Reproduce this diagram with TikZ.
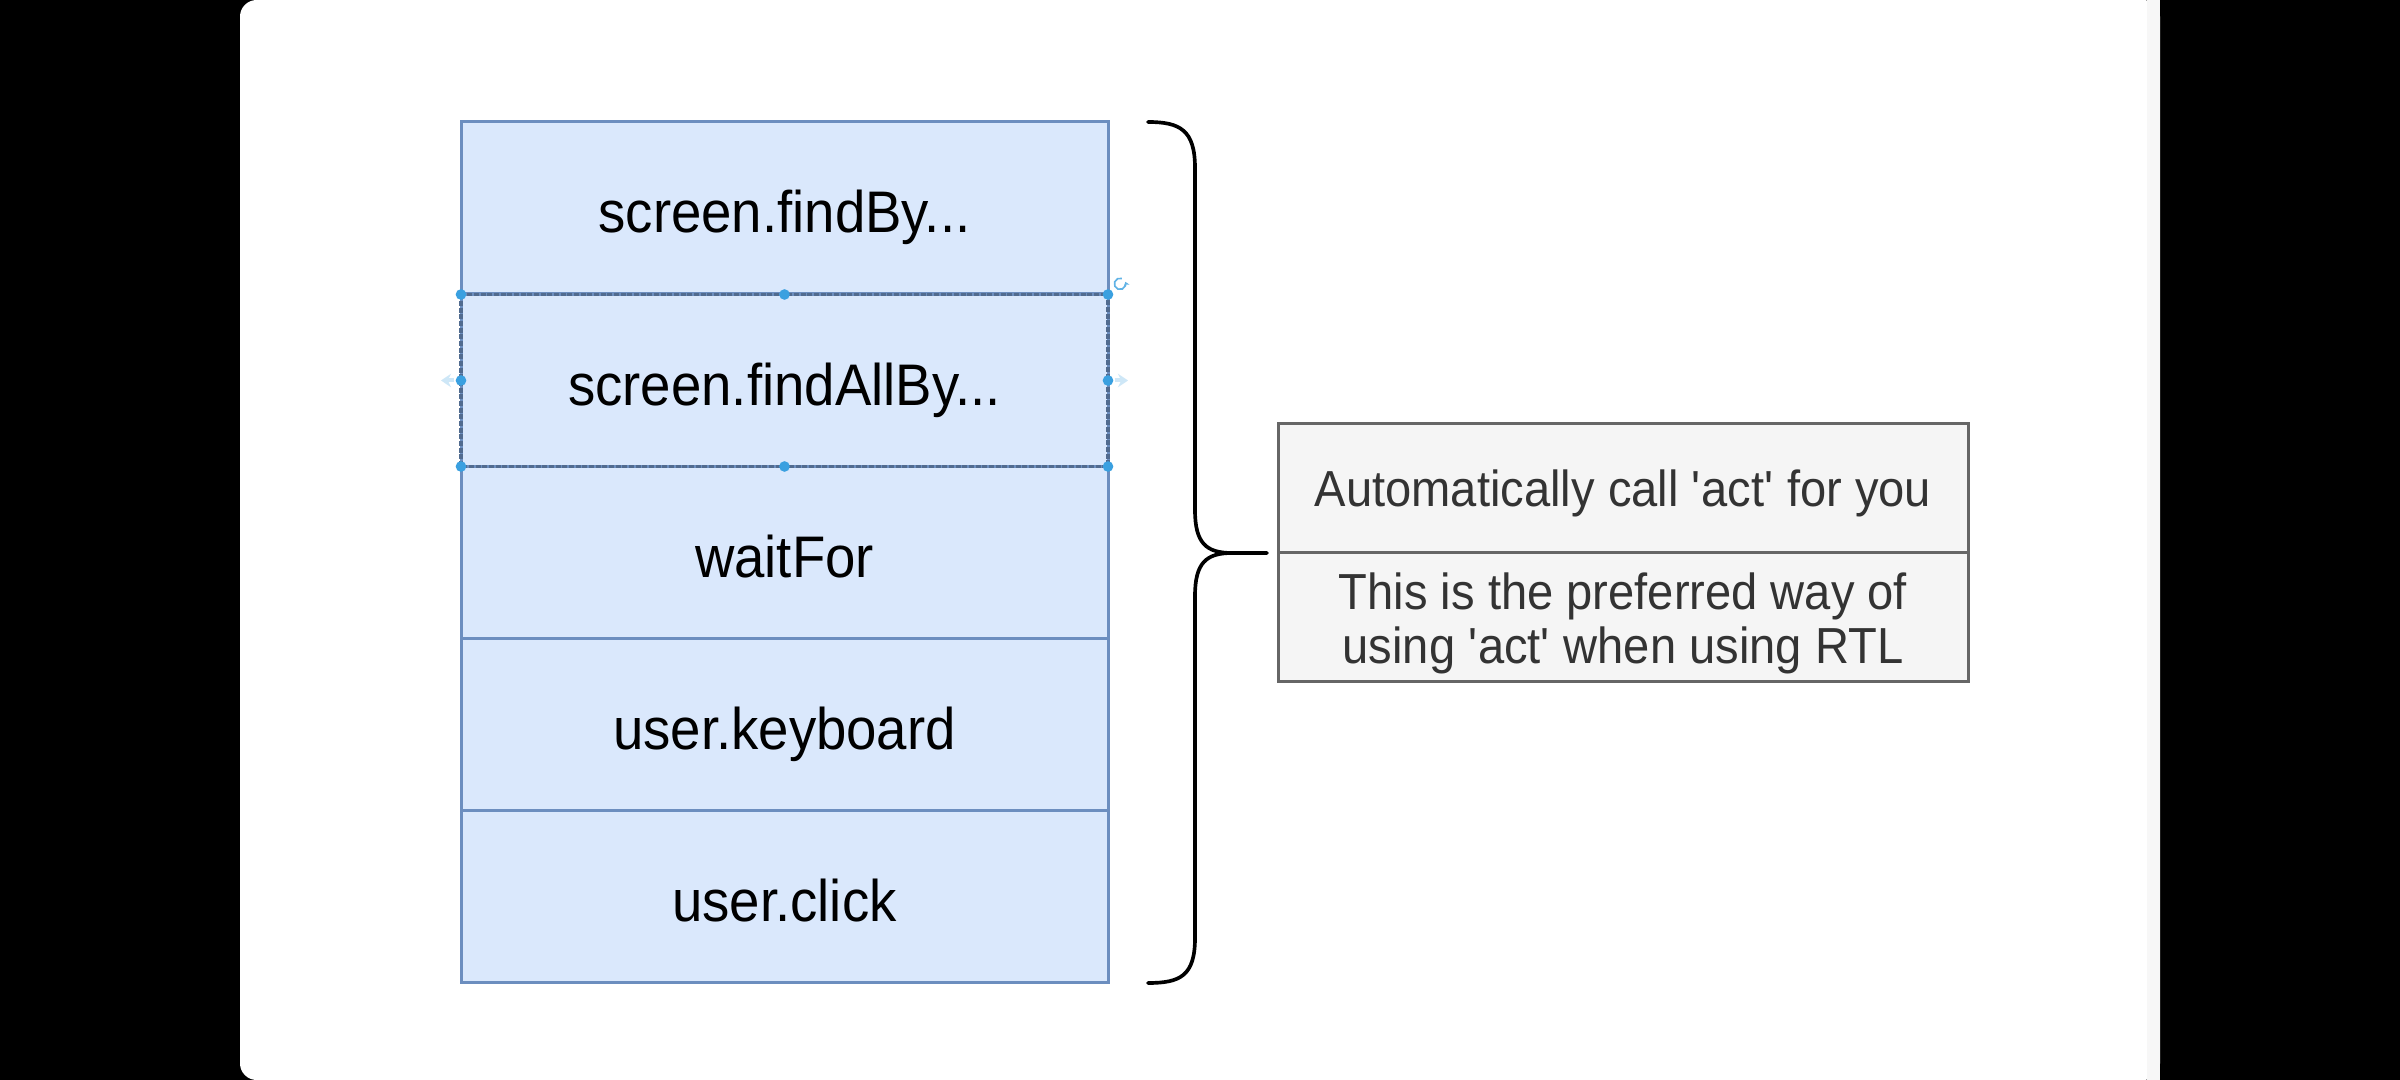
\documentclass[tikz,border=0pt]{standalone}
\usepackage{fontspec}
\usetikzlibrary{arrows.meta}
\setmainfont{Liberation Sans}
\newfontfamily\narrowsans{Liberation Sans}[FakeStretch=0.93]
\definecolor{cellfill}{HTML}{DAE8FC}
\definecolor{celldraw}{HTML}{6C8EBF}
\definecolor{notefill}{HTML}{F5F5F5}
\definecolor{notedraw}{HTML}{666666}
\definecolor{notetext}{HTML}{333333}
\definecolor{handle}{HTML}{3AA0E0}
\tikzset{
  cell/.style={draw=celldraw, fill=cellfill, line width=0.9pt, inner sep=0pt, outer sep=0pt,
    minimum width=194.1pt, minimum height=51.6pt, text height=15pt, text depth=0pt,
    font=\narrowsans\fontsize{17.6}{20}\selectfont, text=black},
  notecell/.style={draw=notedraw, fill=notefill, line width=0.9pt, inner sep=0pt, outer sep=0pt,
    minimum width=207pt, minimum height=38.7pt, font=\narrowsans\fontsize{15.2}{16.1}\selectfont,
    text=notetext, align=center},
  brace/.style={draw=black, line width=1.1pt, line cap=round, line join=round},
  handledot/.style={circle, fill=handle, inner sep=0pt, minimum size=3.2pt},
  ghostarrow/.style={draw=handle!25, line width=1.2pt, -{Stealth[length=3pt,width=4pt]}}
}
\begin{document}
\begin{tikzpicture}[x=0.3pt, y=-0.3pt]
\useasboundingbox (0,0) rectangle (2400,1080);
% screen frame
\fill[black] (0,0) rectangle (2400,1080);
\fill[white, rounded corners=5pt] (240,0) rectangle (2160,1080);
\fill[black!3] (2147,0) rectangle (2160,1080);
% stack of cells
\node[cell] (c1) at (784.5,208) {screen.findBy...};
\node[cell] (c2) at (784.5,380.5) {screen.findAllBy...};
\node[cell] (c3) at (784.5,552.5) {waitFor};
\node[cell] (c4) at (784.5,724.5) {user.keyboard};
\node[cell] (c5) at (784.5,896.5) {user.click};
% selection handles on c2
\draw[celldraw!75!black, line width=1pt, dash pattern=on 1.5pt off 0.5pt] (c2.north west) rectangle (c2.south east);
\foreach \a in {north west, north, north east, west, east, south west, south, south east}
  \node[handledot] at (c2.\a) {};
\coordinate (la) at ([xshift=-6pt]c2.west);
\coordinate (lb) at ([xshift=-2pt]c2.west);
\coordinate (ra) at ([xshift=2pt]c2.east);
\coordinate (rb) at ([xshift=6pt]c2.east);
\draw[ghostarrow] (lb) -- (la);
\draw[ghostarrow] (ra) -- (rb);
\coordinate (rot) at ([xshift=3.6pt,yshift=3.2pt]c2.north east);
\draw[handle!80, line width=0.5pt, -{Stealth[length=1.2pt,width=1.8pt]}] ([shift={(70:1.7pt)}]rot) arc[start angle=70, end angle=380, radius=1.7pt];
% brace
\coordinate (bt) at (1148,122);
\coordinate (bb) at (1148,983);
\coordinate (tip) at (1267,553);
\draw[brace] (bt) .. controls (1180,122) and (1195,130) .. (1195,168) -- (1195,510)
  .. controls (1195,543) and (1206,553) .. (1232,553) -- (tip);
\draw[brace] (1232,553) .. controls (1206,553) and (1195,563) .. (1195,596) -- (1195,938)
  .. controls (1195,976) and (1180,983) .. (bb);
% note box
\node[notecell, anchor=south west, text height=11pt, text depth=0pt] (n1) at (1278,553)
  {Automatically call \textquotesingle act\textquotesingle{} for you};
\node[notecell, anchor=north west] (n2) at (1278,553)
  {\rule{0pt}{14.6pt}This is the preferred way of\\using \textquotesingle act\textquotesingle{} when using RTL};
\end{tikzpicture}
\end{document}
